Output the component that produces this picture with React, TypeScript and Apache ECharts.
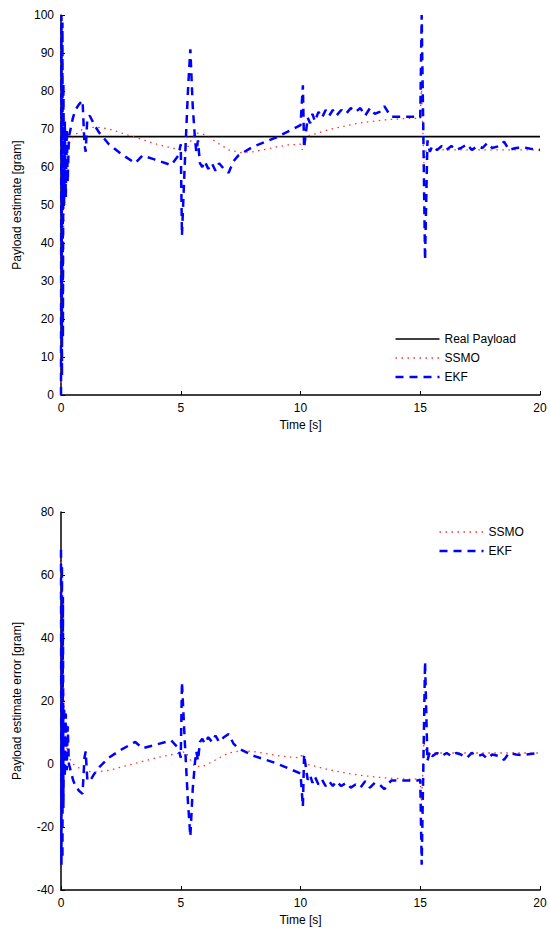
import React, { useEffect, useRef } from "react";
import * as echarts from "echarts";

const REAL_PAYLOAD = 68;
const TIME_RANGE = [0, 20];
const TOP_Y_RANGE = [0, 100];
const BOTTOM_Y_RANGE = [-40, 80];

// EKF payload estimate [time s, gram]
const EKF_EST: number[][] = [
  [0, 0], [0.02, 100], [0.04, 5], [0.06, 98], [0.08, 15], [0.1, 82], [0.13, 50], [0.16, 72],
  [0.2, 52], [0.24, 70], [0.28, 56], [0.33, 68], [0.4, 70], [0.5, 73], [0.6, 75], [0.75, 76.5], [0.9, 77.5],
  [0.98, 66], [1.03, 64], [1.1, 73], [1.2, 73.5], [1.4, 71], [1.6, 69], [2.0, 66], [2.5, 63.5],
  [3.1, 61], [3.4, 63], [3.9, 62], [4.6, 60.5], [4.9, 63], [5.0, 66], [5.05, 42], [5.15, 58],
  [5.3, 80], [5.4, 91], [5.5, 76], [5.6, 67], [5.65, 64], [5.72, 67], [5.8, 61], [5.9, 60],
  [6.0, 61.5], [6.15, 59.5], [6.3, 61], [6.45, 59], [6.6, 61], [6.8, 59.5], [7.0, 58.5], [7.2, 61.5],
  [7.4, 63], [8.0, 65.3], [9.0, 67.8], [10.0, 71], [10.1, 81.5], [10.15, 65], [10.3, 73], [10.4, 71.5],
  [10.5, 74], [10.6, 72], [10.75, 74.5], [10.9, 73], [11.05, 75], [11.2, 73.5], [11.35, 75], [11.5, 73.5],
  [11.7, 75], [11.9, 74], [12.1, 75.5], [12.3, 74.5], [12.5, 75.5], [12.7, 73.5], [12.9, 75.5], [13.1, 74],
  [13.3, 74.5], [13.5, 76], [13.7, 74], [13.8, 73.2], [14.9, 73.2], [15.0, 73], [15.06, 100], [15.12, 73],
  [15.2, 35.5], [15.3, 67], [15.4, 64], [15.5, 65.5], [15.7, 64.5], [15.9, 65.5], [16.1, 64.5], [16.3, 65.5],
  [16.5, 64.5], [16.7, 65], [16.95, 66], [17.15, 64.5], [17.4, 65.5], [17.6, 65], [17.8, 66.3], [18.0, 65],
  [18.3, 65.5], [18.5, 66.7], [18.7, 64.5], [19.0, 65], [19.3, 65.2], [19.6, 64.8], [20.0, 64.5],
];

// SSMO payload estimate [time s, gram]
const SSMO_EST: number[][] = [
  [0, 0], [0.05, 22], [0.1, 42], [0.15, 55], [0.2, 61], [0.3, 65.5], [0.5, 68], [0.8, 69.5],
  [1.0, 70.3], [1.5, 70.5], [2.0, 70], [2.5, 69], [3.0, 68], [3.5, 67], [4.0, 66], [4.5, 65.2],
  [5.0, 64.5], [5.2, 64], [5.35, 66], [5.6, 69], [6.0, 68.5], [6.5, 66.5], [7.0, 64.5], [7.5, 63.8],
  [8.0, 64], [8.5, 64.6], [9.0, 65.3], [9.5, 65.8], [10.0, 66], [10.08, 64.5], [10.2, 68], [10.5, 68.5],
  [11.0, 69.5], [11.5, 70.3], [12.0, 71], [12.5, 71.6], [13.0, 72], [13.5, 72.4], [14.0, 72.6], [14.5, 72.8],
  [15.0, 72.8], [15.05, 82], [15.15, 61], [15.25, 64.5], [16, 64.5], [17, 64.5], [18, 64.5], [19, 64.5],
  [20, 64.5],
];

const REAL_LINE: number[][] = [[0, REAL_PAYLOAD], [20, REAL_PAYLOAD]];

// estimate error = real payload - estimate
const EKF_ERR = EKF_EST.map(([t, v]) => [t, REAL_PAYLOAD - v]);
const SSMO_ERR = SSMO_EST.map(([t, v]) => [t, REAL_PAYLOAD - v]);

const TOP_LEGEND = ["Real Payload", "SSMO", "EKF"];
const BOTTOM_LEGEND = ["SSMO", "EKF"];

const FONT = "Liberation Sans, Arial, Helvetica, sans-serif";

export default function App() {
  const ref = useRef<HTMLDivElement>(null);
  useEffect(() => {
    document.body.style.margin = "0";
    const chart = echarts.init(ref.current!, null, { renderer: "svg" });
    const axisCommon = {
      axisLine: { show: true, onZero: false, lineStyle: { color: "#000", width: 1.5 } },
      axisTick: { show: true, inside: true, length: 4, lineStyle: { color: "#000", width: 1 } },
      splitLine: { show: false },
      axisLabel: { color: "#000", fontSize: 12, fontFamily: FONT, margin: 7 },
      nameTextStyle: { color: "#000", fontSize: 12, fontFamily: FONT },
    };
    const xAxisOf = (gridIndex: number) => ({
      ...axisCommon,
      type: "value",
      gridIndex,
      min: TIME_RANGE[0],
      max: TIME_RANGE[1],
      interval: 5,
      name: "Time [s]",
      nameLocation: "middle",
      nameGap: 24,
    });
    const realStyle = { color: "#000", width: 1.6, type: "solid" as any };
    const ssmoStyle = { color: "#ff3030", width: 1.3, type: [1.5, 4.5] };
    const ekfStyle = { color: "#0000ff", width: 2.5, type: [8, 6] };
    const styleOf: Record<string, any> = { "Real Payload": realStyle, SSMO: ssmoStyle, EKF: ekfStyle };

    const legendGroup = (names: string[], x: number, y: number) => ({
      type: "group",
      left: x,
      top: y,
      children: names.flatMap((n, i) => {
        const s = styleOf[n];
        const cy = i * 19 + 6;
        return [
          {
            type: "line",
            shape: { x1: 0, y1: cy, x2: 44, y2: cy },
            style: {
              stroke: s.color,
              lineWidth: s.width,
              lineDash: Array.isArray(s.type) ? s.type : null,
            },
          },
          {
            type: "text",
            x: 49,
            y: cy,
            style: {
              text: n,
              fill: "#000",
              font: `12px ${FONT}`,
              textVerticalAlign: "middle",
              verticalAlign: "middle",
            },
          },
        ];
      }),
    });

    const option: any = {
      animation: false,
      backgroundColor: "#fff",
      grid: [
        { left: 61, top: 15, width: 479, height: 380 },
        { left: 61, top: 512, width: 479, height: 378 },
      ],
      xAxis: [xAxisOf(0), xAxisOf(1)],
      yAxis: [
        {
          ...axisCommon,
          type: "value",
          gridIndex: 0,
          min: TOP_Y_RANGE[0],
          max: TOP_Y_RANGE[1],
          interval: 10,
          name: "Payload estimate [gram]",
          nameLocation: "middle",
          nameGap: 38,
        },
        {
          ...axisCommon,
          type: "value",
          gridIndex: 1,
          min: BOTTOM_Y_RANGE[0],
          max: BOTTOM_Y_RANGE[1],
          interval: 20,
          name: "Payload estimate error [gram]",
          nameLocation: "middle",
          nameGap: 38,
        },
      ],
      graphic: [legendGroup(TOP_LEGEND, 393, 333), legendGroup(BOTTOM_LEGEND, 437, 526)],
      series: [
        {
          name: "Real Payload",
          type: "line",
          xAxisIndex: 0,
          yAxisIndex: 0,
          data: REAL_LINE,
          symbol: "none",
          lineStyle: realStyle,
        },
        {
          name: "SSMO",
          type: "line",
          xAxisIndex: 0,
          yAxisIndex: 0,
          data: SSMO_EST,
          symbol: "none",
          lineStyle: ssmoStyle,
        },
        {
          name: "EKF",
          type: "line",
          xAxisIndex: 0,
          yAxisIndex: 0,
          data: EKF_EST,
          symbol: "none",
          lineStyle: ekfStyle,
        },
        {
          name: "SSMO",
          type: "line",
          xAxisIndex: 1,
          yAxisIndex: 1,
          data: SSMO_ERR,
          symbol: "none",
          lineStyle: ssmoStyle,
        },
        {
          name: "EKF",
          type: "line",
          xAxisIndex: 1,
          yAxisIndex: 1,
          data: EKF_ERR,
          symbol: "none",
          lineStyle: ekfStyle,
        },
      ],
    };
    chart.setOption(option);
    return () => chart.dispose();
  }, []);
  return <div ref={ref} style={{ width: 550, height: 931 }} />;
}
